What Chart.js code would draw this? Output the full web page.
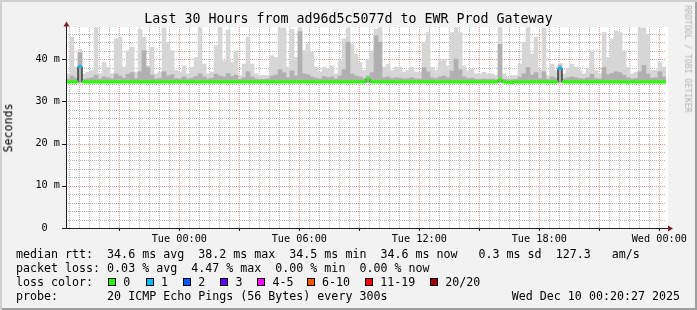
<!DOCTYPE html>
<html>
<head>
<meta charset="utf-8">
<title>Last 30 Hours from ad96d5c5077d to EWR Prod Gateway</title>
<script src="https://cdn.jsdelivr.net/npm/chart.js@4.4.0/dist/chart.umd.min.js"></script>
<style>
  body { margin: 0; background: #ffffff; }
  #graph { position: relative; width: 697px; height: 310px; background: #f2f2f2; overflow: hidden;
           font-family: "DejaVu Sans Mono", monospace; color: #000; }
  #graph canvas { position: absolute; left: 0; top: 0; }
  .txt { position: absolute; white-space: pre; line-height: 1; }
  #title { left: 0; width: 697px; top: 12px; text-align: center; font-size: 13.3px; }
  #ylabel { left: 8.5px; top: 128px; font-size: 11.6px; transform: translate(-50%, -50%) rotate(-90deg); }
  #credit { left: 688px; top: 58.5px; font-size: 8.1px; color: #b4b4b4; transform: translate(-50%, -50%) rotate(90deg); }
  .leg { font-size: 11.65px; }
  .box { position: absolute; width: 8px; height: 8px; box-sizing: border-box; border: 1px solid #000; }
  #frame { position: absolute; left: 0; top: 0; width: 697px; height: 310px; pointer-events: none;
           box-shadow: inset 2px 2px 0 #cfcfcf, inset -2px -2px 0 #9e9e9e; }
</style>
</head>
<body>
<div id="graph">
  <canvas id="smoke" width="697" height="310"></canvas>
  <div class="txt" id="title">Last 30 Hours from ad96d5c5077d to EWR Prod Gateway</div>
  <div class="txt" id="ylabel">Seconds</div>
  <div class="txt" id="credit">RRDTOOL / TOBI OETIKER</div>
  <div class="txt leg" style="left:16px;top:248.5px">median rtt:  34.6 ms avg  38.2 ms max  34.5 ms min  34.6 ms now   0.3 ms sd  127.3   am/s</div>
  <div class="txt leg" style="left:16px;top:262.5px">packet loss: 0.03 % avg  4.47 % max  0.00 % min  0.00 % now</div>
  <div class="txt leg" style="left:16px;top:276.5px">loss color:</div>
  <div id="lossLegend"></div>
  <div class="txt leg" style="left:16px;top:290.5px">probe:       20 ICMP Echo Pings (56 Bytes) every 300s</div>
  <div class="txt leg" style="right:17px;top:290.5px">Wed Dec 10 00:20:27 2025</div>
  <div id="frame"></div>
</div>
<script>
// time axis: minutes relative to Tue 00:00, one sample every 12 minutes
const X_MIN = -340;
const X_MAX = 1460;
const SAMPLE_START = -334;
const SAMPLE_STEP = 12;
const SMOKE_FLOOR = 34.4;

const xLabelMinutes = [0, 360, 720, 1080, 1440];
const xLabelTexts = ['Tue 00:00', 'Tue 06:00', 'Tue 12:00', 'Tue 18:00', 'Wed 00:00'];
const yLabelValues = [0, 10, 20, 30, 40];
const yLabelTexts = ['0  ', '10 m', '20 m', '30 m', '40 m'];

// highest ping of each sample (ms)
const smokeMax = [
  36.5, 45.3, 38.1, 42.3, 36.5, 36.9, 37.3, 47.5, 36.5, 39.2,
  38.1, 36.5, 44.8, 45.2, 38.1, 42.0, 42.8, 36.9, 47.1, 45.2,
  38.5, 42.8, 36.5, 36.9, 47.4, 44.0, 42.0, 37.3, 36.9, 38.4,
  36.5, 38.1, 40.4, 47.4, 38.8, 36.5, 36.9, 43.2, 47.5, 39.6,
  46.9, 39.2, 42.0, 36.1, 38.8, 45.2, 38.8, 36.5, 36.1, 36.1,
  36.1, 40.8, 40.4, 47.4, 47.4, 38.1, 47.1, 40.4, 47.4, 42.0,
  43.6, 41.6, 38.1, 36.9, 38.1, 37.7, 38.4, 36.5, 39.6, 44.8,
  47.4, 43.6, 41.2, 39.2, 37.3, 40.0, 42.0, 47.1, 47.5, 38.1,
  38.8, 37.3, 38.1, 38.1, 36.9, 37.3, 38.1, 36.9, 36.9, 44.0,
  46.3, 38.1, 37.3, 39.6, 40.0, 38.4, 46.3, 47.5, 46.3, 38.4,
  37.3, 37.7, 36.5, 36.5, 36.9, 36.5, 36.5, 36.1, 47.5, 36.5,
  35.7, 36.1, 36.1, 38.8, 44.0, 47.4, 41.2, 45.2, 37.3, 47.4,
  36.1, 38.8, 37.3, 39.0, 36.5, 37.7, 38.8, 38.1, 37.3, 36.5,
  37.7, 42.0, 37.3, 36.5, 46.3, 40.4, 44.8, 46.7, 46.3, 42.0,
  38.1, 36.5, 36.9, 47.4, 47.4, 45.9, 37.3, 37.3, 39.2, 38.1
];

// upper edge of the dense (darker) part of the smoke (ms)
const smokeInner = [
  35.3, 36.0, 35.5, 41.5, 35.2, 35.4, 35.6, 36.2, 35.3, 35.8,
  35.6, 35.3, 36.5, 36.0, 35.5, 36.4, 36.8, 35.4, 37.0, 42.0,
  38.0, 36.2, 35.3, 35.5, 37.0, 36.0, 36.3, 35.4, 35.3, 35.8,
  35.3, 35.5, 35.9, 36.5, 35.8, 35.3, 35.5, 36.4, 36.0, 35.8,
  36.6, 35.9, 36.2, 35.2, 35.6, 37.0, 35.8, 35.3, 35.2, 35.2,
  35.3, 36.0, 36.2, 37.5, 36.8, 35.6, 37.2, 36.0, 46.5, 36.5,
  36.3, 35.8, 35.5, 35.3, 35.9, 35.6, 35.8, 35.3, 36.0, 37.5,
  44.0, 36.5, 36.0, 35.8, 35.4, 36.0, 36.8, 45.5, 44.0, 35.6,
  35.8, 35.4, 35.6, 35.5, 35.3, 35.4, 35.6, 35.3, 35.3, 38.0,
  37.0, 35.6, 35.4, 35.8, 36.0, 35.6, 37.2, 40.0, 37.5, 35.8,
  35.4, 35.5, 35.2, 35.2, 35.3, 35.2, 35.3, 35.1, 43.5, 35.2,
  35.1, 35.1, 35.2, 35.7, 36.5, 38.0, 36.2, 36.8, 35.4, 37.0,
  35.2, 35.8, 35.5, 38.6, 35.3, 35.6, 35.8, 35.6, 35.4, 35.3,
  35.6, 36.4, 35.4, 35.3, 38.0, 36.3, 36.6, 37.0, 36.8, 36.2,
  35.6, 35.3, 35.4, 37.0, 38.5, 36.5, 35.5, 35.6, 37.0, 35.8
];

// median rtt of each sample (ms)
const medianRtt = [
  34.6, 34.6, 34.6, 38.2, 34.6, 34.6, 34.6, 34.6, 34.6, 34.6,
  34.6, 34.6, 34.6, 34.6, 34.6, 34.6, 34.6, 34.6, 34.6, 34.6,
  34.6, 34.6, 34.6, 34.6, 34.6, 34.6, 34.6, 34.6, 34.6, 34.6,
  34.6, 34.6, 34.6, 34.6, 34.6, 34.6, 34.6, 34.6, 34.6, 34.6,
  34.6, 34.6, 34.6, 34.6, 34.6, 34.6, 34.6, 34.6, 34.6, 34.6,
  34.6, 34.6, 34.6, 34.6, 34.6, 34.6, 34.6, 34.6, 34.6, 34.6,
  34.6, 34.6, 34.6, 34.6, 34.6, 34.6, 34.6, 34.6, 34.6, 34.6,
  34.6, 34.6, 34.6, 34.6, 34.6, 35.2, 34.6, 34.6, 34.6, 34.6,
  34.6, 34.6, 34.6, 34.6, 34.6, 34.6, 34.6, 34.6, 34.6, 34.6,
  34.6, 34.6, 34.6, 34.6, 34.6, 34.6, 34.6, 34.6, 34.6, 34.6,
  34.6, 34.6, 34.6, 34.6, 34.6, 34.6, 34.6, 34.6, 35.1, 34.6,
  34.5, 34.5, 34.6, 34.6, 34.6, 34.6, 34.6, 34.6, 34.6, 34.6,
  34.6, 34.6, 34.6, 37.8, 34.6, 34.6, 34.6, 34.6, 34.6, 34.6,
  34.6, 34.6, 34.6, 34.6, 34.6, 34.6, 34.6, 34.6, 34.6, 34.6,
  34.5, 34.6, 34.6, 34.6, 34.6, 34.6, 34.6, 34.6, 34.6, 34.6
];

// pings lost out of 20 for each sample
const lossCount = [
  0, 0, 0, 1, 0, 0, 0, 0, 0, 0,
  0, 0, 0, 0, 0, 0, 0, 0, 0, 0,
  0, 0, 0, 0, 0, 0, 0, 0, 0, 0,
  0, 0, 0, 0, 0, 0, 0, 0, 0, 0,
  0, 0, 0, 0, 0, 0, 0, 0, 0, 0,
  0, 0, 0, 0, 0, 0, 0, 0, 0, 0,
  0, 0, 0, 0, 0, 0, 0, 0, 0, 0,
  0, 0, 0, 0, 0, 0, 0, 0, 0, 0,
  0, 0, 0, 0, 0, 0, 0, 0, 0, 0,
  0, 0, 0, 0, 0, 0, 0, 0, 0, 0,
  0, 0, 0, 0, 0, 0, 0, 0, 0, 0,
  0, 0, 0, 0, 0, 0, 0, 0, 0, 0,
  0, 0, 0, 1, 0, 0, 0, 0, 0, 0,
  0, 0, 0, 0, 0, 0, 0, 0, 0, 0,
  0, 0, 0, 0, 0, 0, 0, 0, 0, 0
];

const lossLabels = ['0', '1', '2', '3', '4-5', '6-10', '11-19', '20/20'];
const lossUpper = [0, 1, 2, 3, 5, 10, 19, 20];
const lossColors = ['#26ff00', '#00b8ff', '#0059ff', '#5e00ff', '#ff00ff', '#ff5500', '#ff0000', '#a10000'];

// legend boxes
const legendBoxX = [108, 145.7, 183, 220.3, 257.3, 306.7, 365, 430];
const lossLegend = document.getElementById('lossLegend');
lossLabels.forEach(function (label, i) {
    const box = document.createElement('div');
    box.className = 'box';
    box.style.left = legendBoxX[i] + 'px';
    box.style.top = '278px';
    box.style.background = lossColors[i];
    lossLegend.appendChild(box);
    const txt = document.createElement('div');
    txt.className = 'txt leg';
    txt.style.left = (legendBoxX[i] + 15.3) + 'px';
    txt.style.top = '276.5px';
    txt.textContent = label;
    lossLegend.appendChild(txt);
});

function lossColor(n) {
    for (let i = 0; i < lossUpper.length; i++) {
        if (n <= lossUpper[i]) return lossColors[i];
    }
    return lossColors[lossColors.length - 1];
}

const sampleTimes = smokeMax.map(function (_, i) { return SAMPLE_START + i * SAMPLE_STEP; });

// grid: minor every 30 min / 2 ms, major every 3 h / 10 ms
const X_MINOR = 30, X_MAJOR = 180;
const Y_MINOR = 2, Y_MAJOR = 10, Y_TOP_GRID = 46;
const MINOR_GRID = 'rgb(180,180,180)';
const MAJOR_GRID = 'rgb(234,150,150)';
const AXIS_COLOR = '#1f1f1f';
const ARROW_COLOR = '#801f1f';

// canvas background, plot area, dotted grid and the rrdtool style axes with arrows
const rrdFrame = {
    id: 'rrdFrame',
    beforeDraw(chart) {
        const ctx = chart.ctx;
        const a = chart.chartArea;
        ctx.save();
        ctx.fillStyle = '#f2f2f2';
        ctx.fillRect(0, 0, chart.width, chart.height);
        ctx.fillStyle = '#ffffff';
        ctx.fillRect(a.left, a.top, a.right - a.left + 2, a.bottom - a.top);
        ctx.restore();
    },
    beforeDatasetsDraw(chart) {
        const ctx = chart.ctx;
        const a = chart.chartArea;
        const xs = chart.scales.x, ys = chart.scales.y;
        ctx.save();
        ctx.lineWidth = 1;
        ctx.setLineDash([1, 1]);
        xs.ticks.forEach(function (t) {
            const px = Math.round(xs.getPixelForValue(t.value)) + 0.5;
            ctx.strokeStyle = t.value % X_MAJOR === 0 ? MAJOR_GRID : MINOR_GRID;
            ctx.beginPath();
            ctx.moveTo(px, a.top);
            ctx.lineTo(px, a.bottom);
            ctx.stroke();
        });
        ys.ticks.forEach(function (t) {
            const py = Math.round(ys.getPixelForValue(t.value)) + 0.5;
            ctx.strokeStyle = t.value % Y_MAJOR === 0 ? MAJOR_GRID : MINOR_GRID;
            ctx.beginPath();
            ctx.moveTo(a.left, py);
            ctx.lineTo(a.right, py);
            ctx.stroke();
        });
        ctx.restore();
    },
    afterDraw(chart) {
        const ctx = chart.ctx;
        const a = chart.chartArea;
        const xs = chart.scales.x, ys = chart.scales.y;
        ctx.save();
        ctx.strokeStyle = AXIS_COLOR;
        ctx.lineWidth = 1;
        ctx.beginPath();
        ctx.moveTo(a.left + 0.5, a.bottom + 1);
        ctx.lineTo(a.left + 0.5, a.top - 2);
        ctx.moveTo(a.left, a.bottom + 0.5);
        ctx.lineTo(a.right + 3, a.bottom + 0.5);
        xs.ticks.forEach(function (t) {
            if (t.value % X_MAJOR !== 0) return;
            const px = Math.round(xs.getPixelForValue(t.value)) + 0.5;
            ctx.moveTo(px, a.bottom);
            ctx.lineTo(px, a.bottom + 3);
        });
        ys.ticks.forEach(function (t) {
            if (t.value % Y_MAJOR !== 0) return;
            const py = Math.round(ys.getPixelForValue(t.value)) + 0.5;
            ctx.moveTo(a.left - 4, py);
            ctx.lineTo(a.left, py);
        });
        ctx.stroke();
        ctx.fillStyle = ARROW_COLOR;
        ctx.beginPath();
        ctx.moveTo(a.left + 0.5, a.top - 5.5);
        ctx.lineTo(a.left - 2.5, a.top - 0.5);
        ctx.lineTo(a.left + 3.5, a.top - 0.5);
        ctx.fill();
        ctx.beginPath();
        ctx.moveTo(a.right + 7, a.bottom + 0.5);
        ctx.lineTo(a.right + 2, a.bottom - 2.5);
        ctx.lineTo(a.right + 2, a.bottom + 3.5);
        ctx.fill();
        ctx.restore();
    }
};

Chart.defaults.font.family = "'DejaVu Sans Mono', monospace";
Chart.defaults.color = '#000';

new Chart(document.getElementById('smoke'), {
    type: 'bar',
    data: {
        datasets: [
            {
                type: 'line',
                label: 'median loss color',
                data: sampleTimes.map(function (t, i) { return { x: t, y: medianRtt[i] }; }),
                showLine: false,
                pointStyle: 'line',
                pointRadius: 2,
                pointBorderWidth: 3,
                pointBorderColor: function (c) { return lossColor(lossCount[c.dataIndex]); },
                pointBackgroundColor: function (c) { return lossColor(lossCount[c.dataIndex]); },
                order: 0
            },
            {
                type: 'line',
                label: 'median',
                data: sampleTimes.map(function (t, i) { return { x: t, y: medianRtt[i] }; }),
                stepped: 'middle',
                borderColor: '#000',
                borderWidth: 1,
                pointRadius: 0,
                order: 1
            },
            {
                label: 'smoke dense',
                data: sampleTimes.map(function (t, i) { return { x: t, y: [SMOKE_FLOOR, smokeInner[i]] }; }),
                backgroundColor: '#b0b0b0',
                borderWidth: 0,
                grouped: false,
                barPercentage: 1,
                categoryPercentage: 1,
                order: 2
            },
            {
                label: 'smoke',
                data: sampleTimes.map(function (t, i) { return { x: t, y: [SMOKE_FLOOR, smokeMax[i]] }; }),
                backgroundColor: '#d6d6d6',
                borderWidth: 0,
                grouped: false,
                barPercentage: 1,
                categoryPercentage: 1,
                order: 3
            }
        ]
    },
    options: {
        responsive: false,
        animation: false,
        devicePixelRatio: 1,
        layout: { padding: { top: 27, right: 31, bottom: 62, left: 0 } },
        plugins: { legend: { display: false }, tooltip: { enabled: false } },
        scales: {
            x: {
                type: 'linear',
                min: X_MIN,
                max: X_MAX,
                offset: false,
                afterBuildTicks: function (scale) {
                    const ticks = [];
                    for (let t = Math.ceil(X_MIN / X_MINOR) * X_MINOR; t <= X_MAX; t += X_MINOR) ticks.push({ value: t });
                    scale.ticks = ticks;
                },
                afterFit: function (scale) { scale.height = 20; },
                grid: { display: false, drawTicks: false, offset: false },
                border: { display: false },
                ticks: {
                    autoSkip: false,
                    maxRotation: 0,
                    minRotation: 0,
                    padding: 5,
                    font: { size: 10.2 },
                    callback: function (v) {
                        const k = xLabelMinutes.indexOf(v);
                        return k >= 0 ? xLabelTexts[k] : '';
                    }
                }
            },
            y: {
                min: 0,
                max: 47.6,
                afterBuildTicks: function (scale) {
                    const ticks = [];
                    for (let v = 0; v <= Y_TOP_GRID; v += Y_MINOR) ticks.push({ value: v });
                    scale.ticks = ticks;
                },
                afterFit: function (scale) { scale.width = 66; },
                grid: { display: false, drawTicks: false },
                border: { display: false },
                ticks: {
                    autoSkip: false,
                    padding: 6,
                    font: { size: 10.2 },
                    callback: function (v) {
                        const k = yLabelValues.indexOf(v);
                        return k >= 0 ? yLabelTexts[k] : '';
                    }
                }
            }
        }
    },
    plugins: [rrdFrame]
});
</script>
</body>
</html>
